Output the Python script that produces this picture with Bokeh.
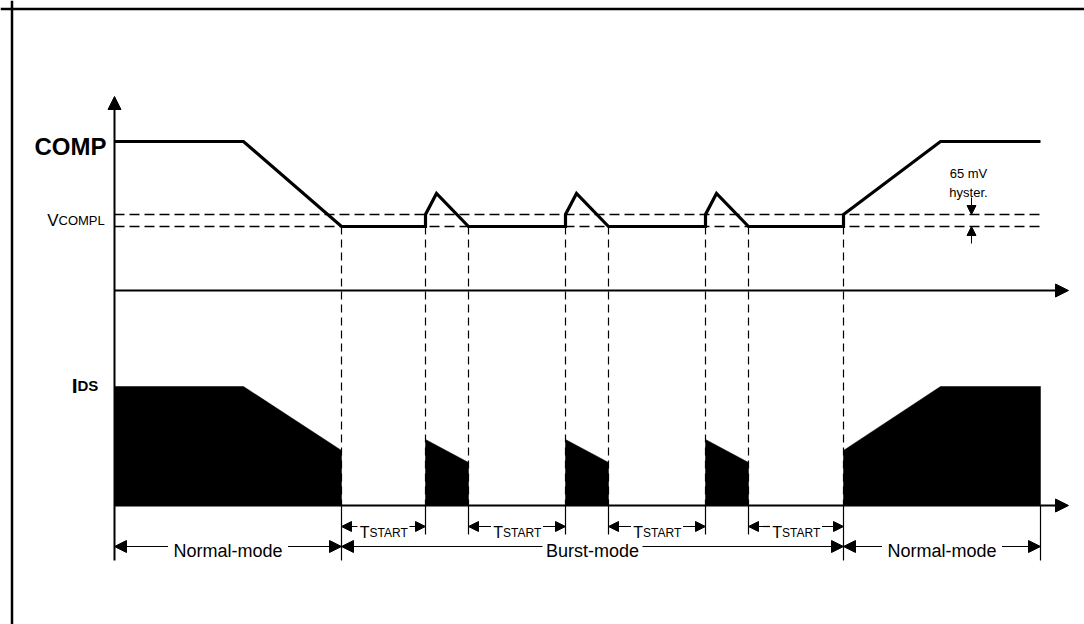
from bokeh.plotting import figure
from bokeh.models import Range1d, Arrow, NormalHead, ColumnDataSource, Span
from bokeh.embed import file_html
from bokeh.resources import INLINE
from bokeh.core.properties import value

# ---------------- data (diagram units: time to the right, level upward) ----------------
t_fall_start = 129
t_burst_start = 227
pulse_start = [311, 451, 591]
pulse_peak = [322, 462, 602]
pulse_end = [354, 494, 634]
t_rise_start = 729
t_rise_end = 826
t_end = 926
t_axis_end = 954

comp_high = 149
vcompl_upper = 76
vcompl_lower = 64
comp_peak = 97
comp_axis_top = 194

ids_normal = 119
ids_normal_low = 55
ids_pulse_top = 66
ids_pulse_low = 43

mode_labels = ["Normal-mode", "Burst-mode", "Normal-mode"]
mode_half_width = [60, 50, 60]
tstart_main, tstart_sub = "T", "START"
hyst_labels = ["65 mV", "hyster."]

FONT = value("Liberation Sans")
BLACK = "#000000"

# ---------------- figure ----------------
W, H = 1084, 624
X0 = 114                 # frame pixel of the time origin
comp_top, ids_top = 290, 505
p = figure(width=W, height=H, x_range=Range1d(-X0, W - X0),
           y_range=Range1d(comp_top - H, comp_top),
           output_backend="svg", toolbar_location=None,
           x_axis_location=None, y_axis_location=None,
           min_border=0, outline_line_color=None,
           background_fill_color="white", border_fill_color="white")
p.extra_y_ranges = {"ids": Range1d(ids_top - H, ids_top)}
OFF = ids_top - comp_top  # comp level -> ids level shift
p.grid.visible = False

# page frame
p.add_layout(Span(location=11.5 - X0, dimension="height", line_color=BLACK, line_width=2.5))
p.add_layout(Span(location=comp_top - 8.5, dimension="width", line_color=BLACK, line_width=2.5))

# ---------------- COMP panel ----------------
p.segment(x0=[0, 0], x1=[t_end, t_end], y0=[vcompl_upper, vcompl_lower],
          y1=[vcompl_upper, vcompl_lower], line_color=BLACK, line_width=1.3, line_dash="10 5")

vx = [t_burst_start] + pulse_start + pulse_end + [t_rise_start]
p.segment(x0=vx, x1=vx, y0=[vcompl_lower + OFF] * len(vx), y1=[0] * len(vx),
          line_color=BLACK, line_width=1.2, line_dash="8 5", y_range_name="ids")

cx = [0, t_fall_start, t_burst_start]
cy = [comp_high, comp_high, vcompl_lower]
for ps, pk, pe in zip(pulse_start, pulse_peak, pulse_end):
    cx += [ps, ps, pk, pe]
    cy += [vcompl_lower, vcompl_upper, comp_peak, vcompl_lower]
cx += [t_rise_start, t_rise_start, t_rise_end, t_end]
cy += [vcompl_lower, vcompl_upper, comp_high, comp_high]
p.line(cx, cy, line_color=BLACK, line_width=3.2, line_join="miter")

def head(s):
    return NormalHead(size=s, fill_color=BLACK, line_color=BLACK, line_width=1)

p.add_layout(Arrow(end=head(13), x_start=0, y_start=-55 - OFF, x_end=0, y_end=comp_axis_top,
                   line_color=BLACK, line_width=2))
p.add_layout(Arrow(end=head(13), x_start=0, y_start=0, x_end=t_axis_end, y_end=0,
                   line_color=BLACK, line_width=2))

p.text(x=[-8], y=[144], text=["COMP"], text_font=FONT, text_font_size="24px",
       text_font_style="bold", text_align="right", text_baseline="alphabetic", text_color=BLACK)
p.text(x=[-56], y=[70], text=["V"], text_font=FONT, text_font_size="17px",
       text_align="right", text_baseline="alphabetic", text_color=BLACK)
p.text(x=[-56], y=[70], text=["COMPL"], text_font=FONT, text_font_size="13px",
       text_align="left", text_baseline="alphabetic", text_color=BLACK)

hx = 857
p.text(x=[hx - 3, hx - 3], y=[117, 98], text=hyst_labels, text_font=FONT,
       text_font_size="13px", text_align="center", text_baseline="alphabetic", text_color=BLACK)
p.add_layout(Arrow(end=head(9), x_start=hx, y_start=93, x_end=hx, y_end=vcompl_upper,
                   line_color=BLACK, line_width=1))
p.add_layout(Arrow(end=head(9), x_start=hx, y_start=47, x_end=hx, y_end=vcompl_lower,
                   line_color=BLACK, line_width=1))

# ---------------- IDS panel ----------------
px = [[0, 0, t_fall_start, t_burst_start, t_burst_start]]
py = [[0, ids_normal, ids_normal, ids_normal_low, 0]]
for ps, pe in zip(pulse_start, pulse_end):
    px.append([ps, ps, pe, pe])
    py.append([0, ids_pulse_top, ids_pulse_low, 0])
px.append([t_rise_start, t_rise_start, t_rise_end, t_end, t_end])
py.append([0, ids_normal_low, ids_normal, ids_normal, 0])
p.patches(px, py, fill_color=BLACK, line_color=BLACK, line_width=0.5, y_range_name="ids")

p.add_layout(Arrow(end=head(13), x_start=0, y_start=0, x_end=t_axis_end, y_end=0,
                   line_color=BLACK, line_width=2, y_range_name="ids"))

p.text(x=[-37], y=[120], text=["I"], text_font=FONT, text_font_size="21px",
       text_font_style="bold", text_align="right", text_baseline="alphabetic",
       text_color=BLACK, y_range_name="ids")
p.text(x=[-37], y=[120], text=["DS"], text_font=FONT, text_font_size="15px",
       text_font_style="bold", text_align="left", text_baseline="alphabetic",
       text_color=BLACK, y_range_name="ids")

# ---------------- dimension lines ----------------
long_ticks = [t_burst_start, t_rise_start, t_end]
short_ticks = pulse_start + pulse_end
p.segment(x0=long_ticks, x1=long_ticks, y0=[0] * 3, y1=[-55] * 3,
          line_color=BLACK, line_width=1.2, y_range_name="ids")
p.segment(x0=short_ticks, x1=short_ticks, y0=[0] * 6, y1=[-29] * 6,
          line_color=BLACK, line_width=1.2, y_range_name="ids")

TS_Y, MODE_Y = -21, -41
ts_starts = [t_burst_start] + pulse_end
ts_ends = pulse_start + [t_rise_start]
ts_c = [(a + b) / 2 for a, b in zip(ts_starts, ts_ends)]
half = 26
ts_src = ColumnDataSource(dict(
    x0=[c - half for c in ts_c] + [c + half for c in ts_c],
    x1=ts_starts + ts_ends,
    y=[TS_Y] * (2 * len(ts_c))))
p.add_layout(Arrow(end=head(10), source=ts_src,
                   x_start="x0", y_start="y", x_end="x1", y_end="y",
                   line_color=BLACK, line_width=1.2, y_range_name="ids"))
p.text(x=[c - 14 for c in ts_c], y=[TS_Y - 6] * 4, text=[tstart_main] * 4, text_font=FONT,
       text_font_size="16px", text_align="right", text_baseline="alphabetic",
       text_color=BLACK, y_range_name="ids")
p.text(x=[c - 14 for c in ts_c], y=[TS_Y - 6] * 4, text=[tstart_sub] * 4, text_font=FONT,
       text_font_size="12px", text_align="left", text_baseline="alphabetic",
       text_color=BLACK, y_range_name="ids")

m_starts = [0, t_burst_start, t_rise_start]
m_ends = [t_burst_start, t_rise_start, t_end]
m_c = [(a + b) / 2 for a, b in zip(m_starts, m_ends)]
m_src = ColumnDataSource(dict(
    x0=[c - h for c, h in zip(m_c, mode_half_width)] + [c + h for c, h in zip(m_c, mode_half_width)],
    x1=m_starts + m_ends,
    y=[MODE_Y] * 6))
p.add_layout(Arrow(end=head(12), source=m_src,
                   x_start="x0", y_start="y", x_end="x1", y_end="y",
                   line_color=BLACK, line_width=1.2, y_range_name="ids"))
p.text(x=m_c, y=[MODE_Y - 4] * 3, text=mode_labels, text_font=FONT, text_font_size="18px",
       text_align="center", text_baseline="alphabetic", text_color=BLACK, y_range_name="ids")

open("out.html", "w").write(file_html(p, INLINE))
